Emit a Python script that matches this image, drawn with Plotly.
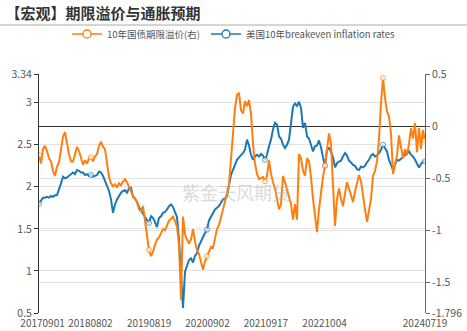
import pandas as pd
import plotly.graph_objects as go

start_date = "2017-09-01"
end_date = "2024-07-19"
n_points = 194

breakeven = [
    1.80, 1.83, 1.87, 1.87, 1.88, 1.87, 1.89, 1.88, 1.90, 1.90,
    1.96, 2.04, 2.12, 2.10, 2.11, 2.13, 2.14, 2.17, 2.15, 2.20,
    2.19, 2.17, 2.17, 2.14, 2.15, 2.13, 2.14, 2.12, 2.13, 2.14,
    2.18, 2.17, 2.13, 2.08, 2.01, 1.95, 1.85, 1.69, 1.79, 1.85,
    1.90, 1.93, 1.95, 1.96, 1.93, 1.98, 1.99, 1.88, 1.86, 1.82,
    1.76, 1.71, 1.68, 1.64, 1.60, 1.57, 1.65, 1.63, 1.58, 1.52,
    1.63, 1.65, 1.69, 1.70, 1.73, 1.77, 1.79, 1.76, 1.70, 1.64,
    1.37, 0.95, 0.56, 0.99, 1.05, 1.13, 1.15, 1.10, 1.18, 1.21,
    1.30, 1.36, 1.40, 1.45, 1.49, 1.60, 1.65, 1.69, 1.73, 1.75,
    1.77, 1.81, 1.85, 1.86, 1.89, 2.02, 2.14, 2.20, 2.26, 2.32,
    2.35, 2.37, 2.40, 2.44, 2.56, 2.49, 2.38, 2.32, 2.36, 2.38,
    2.36, 2.39, 2.37, 2.32, 2.38, 2.48, 2.56, 2.68, 2.76, 2.74,
    2.60, 2.57, 2.50, 2.46, 2.50, 2.56, 2.74, 2.95, 2.99, 2.96,
    3.01, 2.94, 2.70, 2.76, 2.60, 2.57, 2.50, 2.42, 2.48, 2.49,
    2.55, 2.47, 2.35, 2.25, 2.44, 2.46, 2.42, 2.35, 2.23, 2.28,
    2.30, 2.31, 2.36, 2.40, 2.37, 2.31, 2.29, 2.26, 2.25, 2.21,
    2.20, 2.24, 2.23, 2.25, 2.29, 2.32, 2.37, 2.39, 2.36, 2.37,
    2.40, 2.44, 2.50, 2.46, 2.42, 2.32, 2.25, 2.20, 2.26, 2.32,
    2.31, 2.33, 2.36, 2.38, 2.40, 2.42, 2.38, 2.36, 2.32, 2.27,
    2.23, 2.27, 2.30, 2.30,
]

term_premium = [
    -0.28, -0.36, -0.22, -0.19, -0.24, -0.31, -0.34, -0.43, -0.48, -0.39,
    -0.35, -0.24, -0.10, -0.06, -0.17, -0.27, -0.34, -0.34, -0.27, -0.20,
    -0.24, -0.31, -0.37, -0.33, -0.36, -0.31, -0.30, -0.34, -0.29, -0.27,
    -0.19, -0.15, -0.20, -0.22, -0.36, -0.49, -0.55, -0.58, -0.56, -0.59,
    -0.55, -0.57, -0.53, -0.51, -0.54, -0.59, -0.62, -0.67, -0.70, -0.73,
    -0.80, -0.82, -0.77, -0.91, -1.06, -1.19, -1.25, -1.21, -1.14, -1.09,
    -1.07, -1.02, -0.99, -1.00, -0.95, -0.91, -0.89, -0.87, -0.91, -0.97,
    -1.14, -1.67, -0.87, -1.04, -1.09, -1.13, -1.09, -0.99, -1.11, -1.19,
    -1.23, -1.30, -1.38, -1.30, -1.25, -1.19, -1.16, -1.17, -1.07, -0.99,
    -0.95, -0.88, -0.80, -0.73, -0.65, -0.56, -0.31, -0.02, 0.17, 0.30,
    0.32, 0.15, 0.12, 0.24, 0.19, 0.25, 0.12, -0.17, -0.36, -0.46,
    -0.51, -0.50, -0.49, -0.53, -0.48, -0.33, -0.46, -0.54, -0.60, -0.70,
    -0.80, -0.75, -0.48, -0.54, -0.62, -0.70, -0.75, -0.90, -0.75, -0.90,
    -0.27, -0.31, -0.43, -0.48, -0.31, -0.34, -0.49, -0.70, -0.87, -1.02,
    -0.80, -0.62, -0.49, -0.38, -0.22, -0.07, -0.17, -0.60, -0.96, -0.70,
    -0.60, -0.70, -0.77, -0.65, -0.54, -0.60, -0.67, -0.73, -0.63, -0.54,
    -0.47, -0.53, -0.68, -0.80, -0.92, -0.82, -0.70, -0.48, -0.43, -0.34,
    -0.12, 0.22, 0.46, 0.27, 0.14, 0.09, -0.07, -0.46, -0.36, -0.28,
    -0.09, -0.22, -0.31, -0.22, -0.28, -0.17, -0.02, -0.12, 0.03, -0.25,
    -0.02, -0.22, -0.04, -0.14,
]

# x-axis labels (the first label sits slightly inside the plot, as in the reference)
label_dates = ["2017-09-24", "2018-08-02", "2019-08-19", "2020-09-02",
               "2021-09-17", "2022-10-04", "2024-07-19"]
label_text = ["20170901", "20180802", "20190819", "20200902",
              "20210917", "20221004", "20240719"]
symbol_dates = ["2017-09-01", "2018-08-02", "2019-08-19", "2020-09-02",
                "2021-09-17", "2022-10-04", "2023-10-20", "2024-07-19"]
minor_tick_dates = ["2018-02-17", "2019-03-15", "2020-03-19", "2021-04-08",
                    "2022-04-21", "2024-02-07"]

left_ticks = [0.5, 1, 1.5, 2, 2.5, 3, 3.34]
right_ticks = [-1.796, -1.5, -1, -0.5, 0, 0.5]

names = ["10年国债期限溢价(右)", "美国10年breakeven inflation rates"]

dates = pd.date_range(start_date, end_date, periods=n_points)

sym_idx = set()
for d in symbol_dates:
    sym_idx.add(int(abs(dates - pd.Timestamp(d)).argmin()))
sizes = [5 if i in sym_idx else 0 for i in range(n_points)]

ORANGE = "#ff7f0e"
BLUE = "#1f77b4"
FONT = "Noto Sans CJK SC"

fig = go.Figure()
fig.add_trace(go.Scatter(
    x=dates, y=term_premium, name=names[0], yaxis="y2", showlegend=False,
    mode="lines+markers", line=dict(color=ORANGE, width=2),
    marker=dict(size=sizes, color="white", line=dict(color=ORANGE, width=1)),
))
fig.add_trace(go.Scatter(
    x=dates, y=breakeven, name=names[1], yaxis="y", showlegend=False,
    mode="lines+markers", line=dict(color=BLUE, width=2),
    marker=dict(size=sizes, color="white", line=dict(color=BLUE, width=1)),
))
# legend entries, one legend box each
for nm, col, lg in zip(names, [ORANGE, BLUE], ["legend", "legend2"]):
    fig.add_trace(go.Scatter(
        x=[None], y=[None], name=nm, mode="lines+markers", legend=lg,
        line=dict(color=col, width=1.5),
        marker=dict(size=8, color="white", line=dict(color=col, width=1.3)),
    ))

legend_common = dict(orientation="h", xanchor="left",
                     y=(331 - 18 - 34) / 239, yanchor="middle",
                     font=dict(family=FONT, size=9.5, color="#555"),
                     itemwidth=30, bgcolor="rgba(0,0,0,0)")

fig.update_layout(
    width=467, height=331,
    margin=dict(l=39, r=42, t=74, b=18),
    paper_bgcolor="white", plot_bgcolor="white",
    font=dict(family=FONT, size=11, color="#555"),
    title=dict(text="<b>【宏观】期限溢价与通胀预期</b>", x=0.012, xanchor="left",
               y=1 - 14 / 331, yanchor="middle",
               font=dict(family=FONT, size=15, color="#333")),
    showlegend=True,
    legend=dict(x=(67 - 39) / 386, **legend_common),
    legend2=dict(x=(206 - 39) / 386, **legend_common),
    xaxis=dict(type="date", range=[start_date, end_date],
               tickvals=label_dates, ticktext=label_text, tickangle=0,
               showgrid=False, showline=False, ticks="", zeroline=False,
               ticklabelstandoff=3,
               tickfont=dict(size=10, color="#555"), automargin=False),
    xaxis2=dict(type="date", range=[start_date, end_date], overlaying="x",
                anchor="free", position=1.796 / 2.296,
                tickvals=minor_tick_dates, showticklabels=False,
                ticks="outside", ticklen=4, tickcolor="#333",
                showgrid=False, showline=False, zeroline=False),
    yaxis=dict(range=[0.5, 3.34], tickvals=left_ticks,
               ticktext=[str(v) for v in left_ticks],
               showgrid=True, gridcolor="#e3e3e3", gridwidth=1,
               showline=True, linecolor="#333", linewidth=1,
               ticks="outside", ticklen=4, tickcolor="#333",
               zeroline=False, tickfont=dict(size=10.5, color="#555"),
               automargin=False),
    yaxis2=dict(range=[-1.796, 0.5], tickvals=right_ticks,
                ticktext=[str(v) for v in right_ticks],
                overlaying="y", side="right",
                showgrid=True, gridcolor="#e3e3e3", gridwidth=1,
                showline=True, linecolor="#666", linewidth=1,
                ticks="outside", ticklen=4, tickcolor="#666",
                zeroline=True, zerolinecolor="#333", zerolinewidth=1.3,
                tickfont=dict(size=10.5, color="#555"), automargin=False),
    shapes=[dict(type="line", xref="paper", yref="paper",
                 x0=-39 / 386, x1=428 / 386,
                 y0=(331 - 18 - 25) / 239, y1=(331 - 18 - 25) / 239,
                 line=dict(color="#aaa", width=1))],
    annotations=[dict(text="紫金天风期货", xref="paper", yref="paper",
                      x=(236 - 39) / 386, y=(331 - 18 - 192) / 239,
                      showarrow=False,
                      font=dict(family=FONT, size=18,
                                color="rgba(170,170,170,0.45)"))],
)

fig.write_html("out.html")
